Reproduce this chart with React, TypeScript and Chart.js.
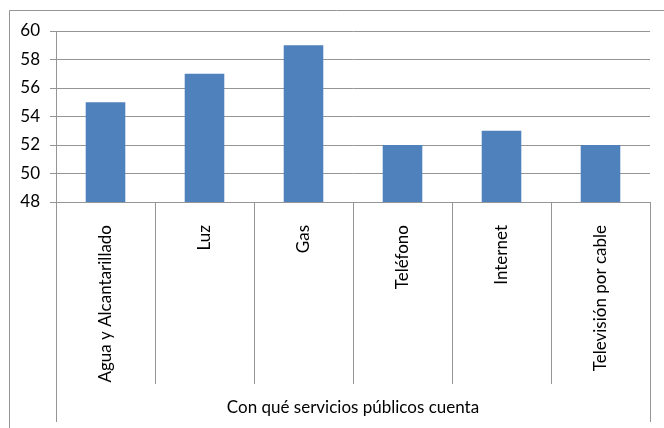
import React, { useEffect, useRef } from "react";
import { Chart, registerables } from "chart.js";

Chart.register(...registerables);

const categories = [
  "Agua y Alcantarillado",
  "Luz",
  "Gas",
  "Teléfono",
  "Internet",
  "Televisión por cable",
];
const values = [55, 57, 59, 52, 53, 52];
const axisTitle = "Con qué servicios públicos cuenta";
const yMin = 48;
const yMax = 60;
const yStep = 2;

const W = 664;
const H = 428;
const FONT = "Lato, 'Open Sans', sans-serif";
const GRID = "#959595";

const framePlugin = {
  id: "frame",
  beforeDraw(chart: any) {
    const ctx = chart.ctx;
    ctx.save();
    ctx.strokeStyle = GRID;
    ctx.lineWidth = 1;
    ctx.beginPath();
    ctx.moveTo(9.5, chart.height);
    ctx.lineTo(9.5, 10.5);
    ctx.lineTo(chart.width, 10.5);
    ctx.stroke();
    ctx.restore();
  },
  afterDraw(chart: any) {
    const ctx = chart.ctx;
    const xs = chart.scales.x;
    const n = categories.length;
    const top = chart.chartArea.bottom;
    ctx.save();
    ctx.strokeStyle = GRID;
    ctx.lineWidth = 1;
    for (let i = 0; i <= n; i++) {
      const x = Math.round(xs.getPixelForValue(i - 0.5)) + 0.5;
      const outer = i === 0 || i === n;
      const bottom = outer ? chart.height - 6 : chart.height - 44;
      ctx.beginPath();
      ctx.moveTo(x, top);
      ctx.lineTo(x, bottom);
      ctx.stroke();
    }
    ctx.restore();
  },
};

export default function App() {
  const ref = useRef<HTMLCanvasElement | null>(null);
  useEffect(() => {
    if (!ref.current) return;
    const chart = new Chart(ref.current, {
      type: "bar",
      data: {
        labels: categories,
        datasets: [
          {
            data: values,
            backgroundColor: "#4F81BD",
            borderWidth: 0,
            barPercentage: 0.4,
            categoryPercentage: 1,
          },
        ],
      },
      options: {
        responsive: false,
        animation: false,
        layout: { padding: { top: 31, right: 14, left: 0, bottom: 0 } },
        plugins: {
          legend: { display: false },
          tooltip: { enabled: false },
        },
        scales: {
          y: {
            min: yMin,
            max: yMax,
            ticks: {
              stepSize: yStep,
              color: "#000",
              padding: 10,
              font: { family: FONT, size: 17 },
            },
            grid: { color: GRID, tickLength: 6, lineWidth: 1 },
            border: { color: GRID },
            afterFit: (s: any) => {
              s.width = 56;
            },
          },
          x: {
            grid: { display: false },
            border: { display: false },
            ticks: {
              autoSkip: false,
              maxRotation: 90,
              minRotation: 90,
              padding: 15,
              color: "#000",
              font: { family: FONT, size: 17 },
            },
            title: {
              display: true,
              text: axisTitle,
              color: "#000",
              font: { family: FONT, size: 17 },
              padding: { top: 0, bottom: 10 },
            },
            afterFit: (s: any) => {
              s.height = H - 202;
            },
          },
        },
      },
      plugins: [framePlugin],
    });
    return () => chart.destroy();
  }, []);
  return (
    <div style={{ position: "fixed", left: 0, top: 0, width: W, height: H, background: "#fff" }}>
      <canvas ref={ref} width={W} height={H} style={{ display: "block" }} />
    </div>
  );
}
